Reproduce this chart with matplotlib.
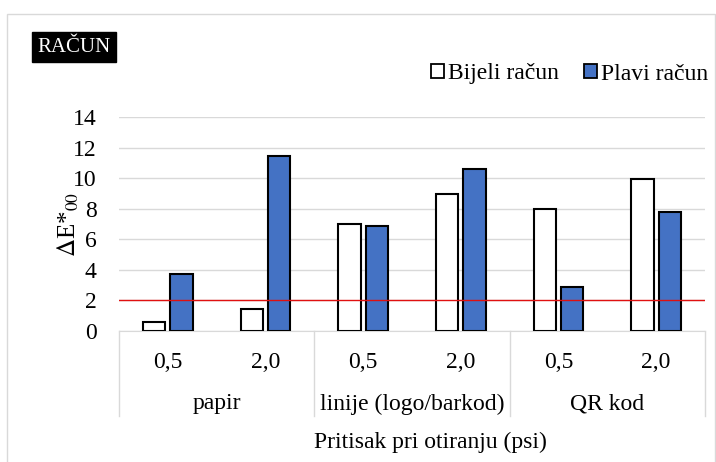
import matplotlib.pyplot as plt
import matplotlib.patches as mpatches
from matplotlib.lines import Line2D
import numpy as np

# data
groups = ["papir", "linije (logo/barkod)", "QR kod"]
pressures = ["0,5", "2,0"]
bijeli = [0.58, 1.42, 7.02, 8.99, 7.98, 9.93]
plavi = [3.72, 11.42, 6.87, 10.63, 2.85, 7.81]
threshold = 2

plt.rcParams["font.family"] = ["Liberation Serif", "DejaVu Serif"]
plt.rcParams["mathtext.fontset"] = "stix"

W, H = 716, 462
fig = plt.figure(figsize=(W / 100, H / 100), dpi=100)


def fy(py):
    return 1 - py / H


def fx(px):
    return px / W


# outer chart border
fig.patches.append(mpatches.Rectangle((fx(7), fy(470)), fx(708), fy(14) - fy(470),
                                      transform=fig.transFigure, fill=False,
                                      edgecolor="#d9d9d9", linewidth=1))

ax = fig.add_axes([fx(119), fy(331), fx(705) - fx(119), fy(117) - fy(331)])

x = np.arange(len(bijeli))
bw = 0.23
off = 0.14
ax.bar(x - off, bijeli, bw, color="white", edgecolor="black", linewidth=1.5, zorder=3)
ax.bar(x + off, plavi, bw, color="#4472C4", edgecolor="black", linewidth=1.5, zorder=3)
ax.axhline(threshold, color="#e01010", linewidth=1, zorder=4)

ax.set_xlim(-0.5, len(bijeli) - 0.5)
ax.set_ylim(0, 14)
ax.set_yticks(range(0, 15, 2))
ax.tick_params(axis="y", length=0, labelsize=17, pad=16)
ax.set_xticks([])
ax.yaxis.grid(True, color="#d9d9d9", linewidth=1)
ax.set_axisbelow(True)
for s in ["top", "right", "left"]:
    ax.spines[s].set_visible(False)
ax.spines["bottom"].set_color("#d9d9d9")

ax.set_ylabel(r"$\Delta$E*$_{00}$", fontsize=18, labelpad=-6)

# multi level category axis
trans = ax.get_xaxis_transform()
y1 = (331 - 362) / 214
y2 = (331 - 404) / 214
ybot = (331 - 416) / 214
for i in range(len(bijeli)):
    ax.text(x[i], y1, pressures[i % 2], transform=trans, ha="center", va="center", fontsize=17)
for g, name in enumerate(groups):
    ax.text(2 * g + 0.5, y2, name, transform=trans, ha="center", va="center", fontsize=17)
for b in [-0.5, 1.5, 3.5, 5.5]:
    ax.add_line(Line2D([b, b], [0, ybot], transform=trans, color="#d9d9d9",
                       linewidth=1, clip_on=False))

fig.text(fx(430), fy(442), "Pritisak pri otiranju (psi)", ha="center", va="center", fontsize=17)

# title box
fig.text(fx(74), fy(47), "RAČUN", ha="center", va="center", fontsize=15, color="white",
         bbox=dict(facecolor="black", edgecolor="black", boxstyle="square,pad=0.25"))

handles = [mpatches.Patch(facecolor="white", edgecolor="black", linewidth=1.3, label="Bijeli račun"),
           mpatches.Patch(facecolor="#4472C4", edgecolor="black", linewidth=1.3, label="Plavi račun")]
fig.legend(handles=handles, loc="center right", bbox_to_anchor=(fx(708), fy(74)), ncol=2,
           frameon=False, fontsize=17, handlelength=0.55, handleheight=0.55,
           handletextpad=0.15, columnspacing=1.1, borderpad=0, borderaxespad=0)

fig.savefig("out.png", dpi=100)
